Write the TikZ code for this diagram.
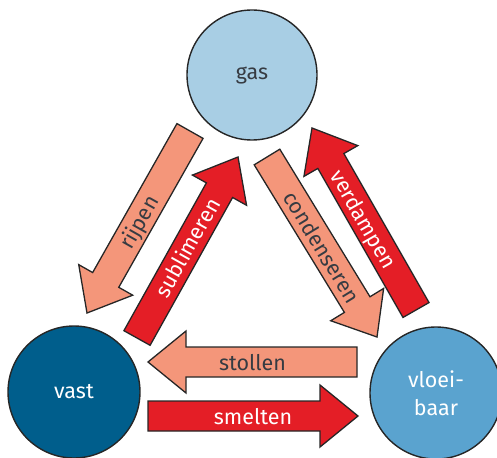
\documentclass[tikz,border=0pt]{standalone}
\usepackage{fontspec}
\setmainfont{Fira Sans}
\usetikzlibrary{calc}
\definecolor{salmon}{HTML}{F4967A}
\definecolor{fred}{HTML}{E41E26}
\definecolor{gasfill}{HTML}{A8CEE4}
\definecolor{vastfill}{HTML}{005E8C}
\definecolor{vloeifill}{HTML}{5AA3CF}
\definecolor{darktext}{HTML}{363B42}
\definecolor{outline}{HTML}{262626}
\newcommand\blockarrow[5]{%
  \coordinate (#1-h) at ($(#2)!38pt!(#1)$);
  \filldraw[arrowbody, fill=#3]
    ($(#1)!15pt!90:(#2)$) -- ($(#1-h)!15pt!-90:(#1)$) -- ($(#1-h)!31pt!-90:(#1)$)
    -- (#2) -- ($(#1-h)!31pt!90:(#1)$) -- ($(#1-h)!15pt!90:(#1)$)
    -- ($(#1)!15pt!-90:(#2)$) -- cycle;
  \path (#1) -- node[lbl, text=#4] (#1-label) {#5} (#2);
}
\begin{document}
\begin{tikzpicture}[x=1pt, y=-1pt, font=\fontsize{21.5}{28}\selectfont,
  state/.style={circle, draw=outline, line width=1.4pt, minimum size=132pt, inner sep=0pt, align=center},
  arrowbody/.style={draw=outline, line width=1.3pt, line join=miter},
  lbl/.style={sloped, inner sep=0pt, text height=20pt, text depth=4pt, anchor=center}]
\useasboundingbox (0,0) rectangle (497,457);
% arrow end points
\coordinate (rijpenT) at (190,131);   \coordinate (rijpenP) at (87,313);
\coordinate (sublT) at (137,338);     \coordinate (sublP) at (238,157);
\coordinate (condT) at (267,157);     \coordinate (condP) at (377,337);
\coordinate (verdT) at (416,310);     \coordinate (verdP) at (312,128);
\coordinate (stolT) at (357,362);     \coordinate (stolP) at (148,362);
\coordinate (smelT) at (148,416);     \coordinate (smelP) at (358,416);
\blockarrow{rijpenT}{rijpenP}{salmon}{darktext}{rijpen}
\blockarrow{sublT}{sublP}{fred}{white}{sublimeren}
\blockarrow{condT}{condP}{salmon}{darktext}{condenseren}
\blockarrow{verdT}{verdP}{fred}{white}{verdampen}
\blockarrow{stolT}{stolP}{salmon}{darktext}{stollen}
\blockarrow{smelT}{smelP}{fred}{white}{smelten}
% states
\node[state, fill=gasfill, text=darktext, minimum size=130pt] (gas) at (252,75) {gas};
\node[state, fill=vastfill, text=white] (vast) at (74,392) {vast};
\node[state, fill=vloeifill, text=white] (vloei) at (436,393) {vloei-\\baar};
\end{tikzpicture}
\end{document}
